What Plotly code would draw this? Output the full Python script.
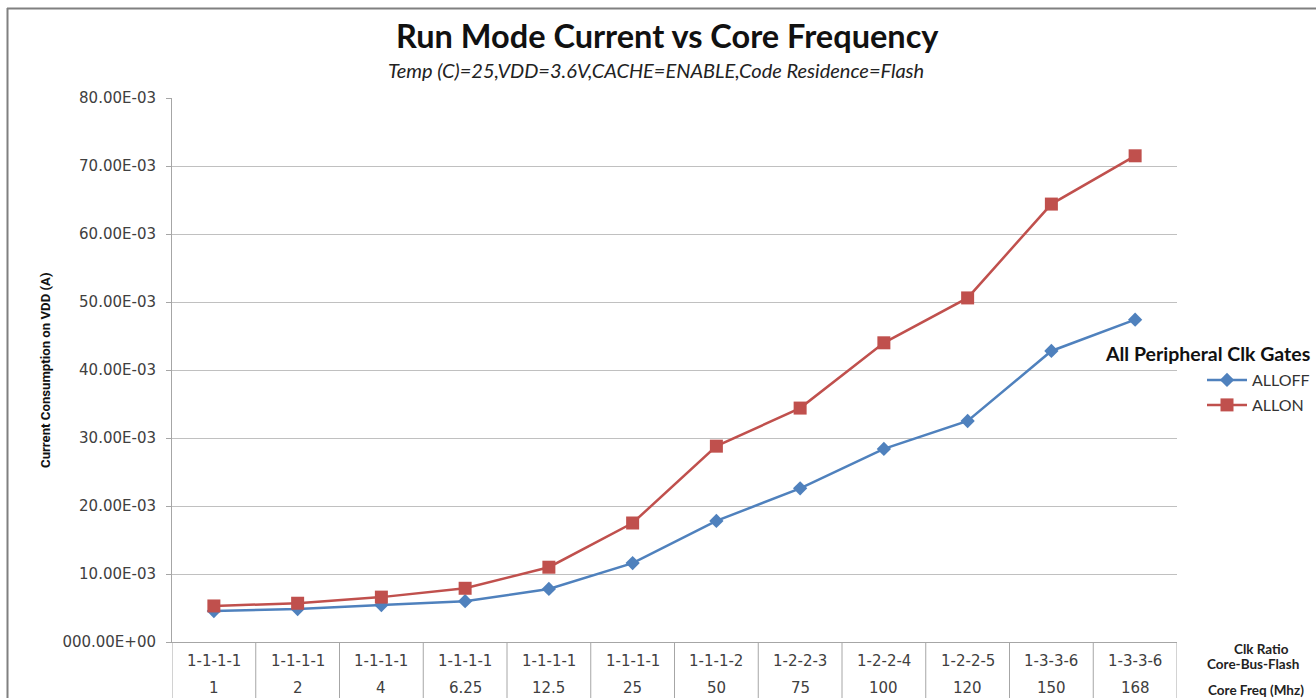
import plotly.graph_objects as go

clk_ratio = ["1-1-1-1", "1-1-1-1", "1-1-1-1", "1-1-1-1", "1-1-1-1", "1-1-1-1",
             "1-1-1-2", "1-2-2-3", "1-2-2-4", "1-2-2-5", "1-3-3-6", "1-3-3-6"]
core_freq = ["1", "2", "4", "6.25", "12.5", "25", "50", "75", "100", "120", "150", "168"]

alloff = [4.56e-3, 4.85e-3, 5.44e-3, 6.0e-3, 7.8e-3, 11.6e-3,
          17.8e-3, 22.6e-3, 28.4e-3, 32.5e-3, 42.8e-3, 47.4e-3]
allon = [5.3e-3, 5.7e-3, 6.6e-3, 7.9e-3, 11.0e-3, 17.5e-3,
         28.8e-3, 34.4e-3, 44.0e-3, 50.6e-3, 64.4e-3, 71.5e-3]

y_tickvals = [0, 10e-3, 20e-3, 30e-3, 40e-3, 50e-3, 60e-3, 70e-3, 80e-3]
y_ticktext = ["000.00E+00", "10.00E-03", "20.00E-03", "30.00E-03", "40.00E-03",
              "50.00E-03", "60.00E-03", "70.00E-03", "80.00E-03"]

PAGE_W, PAGE_H = 1316, 698
L, R, T, B = 172, 1177, 98, 642  # plot area in page pixels


def px(x):
    return (x - L) / (R - L)


def py(y):
    return (B - y) / (B - T)


idx = list(range(len(core_freq)))

fig = go.Figure()
fig.add_trace(go.Scatter(
    x=idx, y=alloff, name="ALLOFF", mode="lines+markers",
    line=dict(color="#4F81BD", width=2.5),
    marker=dict(symbol="diamond", size=11, color="#4F81BD"),
    legend="legend"))
fig.add_trace(go.Scatter(
    x=idx, y=allon, name="ALLON", mode="lines+markers",
    line=dict(color="#C0504D", width=2.5),
    marker=dict(symbol="square", size=13, color="#C0504D"),
    legend="legend2"))

shapes = []
for i in range(len(core_freq) + 1):
    shapes.append(dict(type="line", xref="x", yref="paper",
                       x0=i - 0.5, x1=i - 0.5, y0=0, y1=py(PAGE_H + 5),
                       line=dict(color="#A6A6A6", width=1)))
shapes.append(dict(type="line", xref="paper", yref="paper",
                   x0=px(7), x1=px(PAGE_W + 5), y0=py(8.5), y1=py(8.5),
                   line=dict(color="#808080", width=2)))
shapes.append(dict(type="line", xref="paper", yref="paper",
                   x0=px(7.5), x1=px(7.5), y0=py(8), y1=py(PAGE_H + 5),
                   line=dict(color="#808080", width=2)))

annotations = []
cat_font = dict(family="DejaVu Sans", size=15, color="#404040")
for i in idx:
    annotations.append(dict(x=i, y=py(661), xref="x", yref="paper",
                            text=clk_ratio[i], showarrow=False, font=cat_font,
                            xanchor="center", yanchor="middle"))
    annotations.append(dict(x=i, y=py(688), xref="x", yref="paper",
                            text=core_freq[i], showarrow=False, font=cat_font,
                            xanchor="center", yanchor="middle"))

bold_small = dict(family="Lato", size=13.5, color="#222222")
annotations += [
    dict(x=px(667), y=py(36), xref="paper", yref="paper",
         text="<b>Run Mode Current vs Core Frequency</b>", showarrow=False,
         font=dict(family="Lato", size=32.5, color="#111111"),
         xanchor="center", yanchor="middle"),
    dict(x=px(656), y=py(70), xref="paper", yref="paper",
         text="<i>Temp (C)=25,VDD=3.6V,CACHE=ENABLE,Code Residence=Flash</i>",
         showarrow=False, font=dict(family="Lato", size=20, color="#222222"),
         xanchor="center", yanchor="middle"),
    dict(x=px(45), y=py(370), xref="paper", yref="paper",
         text="<b>Current Consumption on VDD (A)</b>", showarrow=False, textangle=-90,
         font=dict(family="Roboto", size=13.2, color="#111111"),
         xanchor="center", yanchor="middle"),
    dict(x=px(1207), y=py(353), xref="paper", yref="paper",
         text="<b>All Peripheral Clk Gates</b>", showarrow=False,
         font=dict(family="Lato", size=19.5, color="#111111"),
         xanchor="center", yanchor="middle"),
    dict(x=px(1291), y=py(649), xref="paper", yref="paper",
         text="<b>Clk Ratio</b>", showarrow=False, font=bold_small,
         xanchor="right", yanchor="middle"),
    dict(x=px(1301), y=py(664), xref="paper", yref="paper",
         text="<b>Core-Bus-Flash</b>", showarrow=False, font=bold_small,
         xanchor="right", yanchor="middle"),
    dict(x=px(1306), y=py(690), xref="paper", yref="paper",
         text="<b>Core Freq (Mhz)</b>", showarrow=False, font=bold_small,
         xanchor="right", yanchor="middle"),
]

leg_font = dict(family="Lato", size=16, color="#333333")
fig.update_layout(
    width=PAGE_W, height=PAGE_H,
    margin=dict(l=L, r=PAGE_W - R, t=T, b=PAGE_H - B, pad=0, autoexpand=False),
    paper_bgcolor="white", plot_bgcolor="white",
    showlegend=True,
    legend=dict(x=px(1202), y=py(380), xanchor="left", yanchor="middle",
                font=leg_font, bgcolor="rgba(0,0,0,0)", itemwidth=40),
    legend2=dict(x=px(1202), y=py(405), xanchor="left", yanchor="middle",
                 font=leg_font, bgcolor="rgba(0,0,0,0)", itemwidth=40),
    xaxis=dict(range=[-0.5, len(core_freq) - 0.5], showticklabels=False,
               showgrid=False, zeroline=False, showline=True,
               linecolor="#A6A6A6", linewidth=1, ticks="", automargin=False),
    yaxis=dict(range=[0, 80e-3], tickvals=y_tickvals, ticktext=y_ticktext,
               showgrid=True, gridcolor="#C0C0C0", gridwidth=1, zeroline=False,
               showline=True, linecolor="#A6A6A6", linewidth=1,
               ticks="outside", ticklen=5, tickcolor="#A6A6A6",
               ticklabelstandoff=7, automargin=False,
               tickfont=dict(family="DejaVu Sans", size=15, color="#404040")),
    shapes=shapes,
    annotations=annotations,
)

fig.write_html("out.html",
               config={"displayModeBar": False},
               post_script="document.body.style.margin='0';"
                           "document.body.style.overflow='hidden';")
